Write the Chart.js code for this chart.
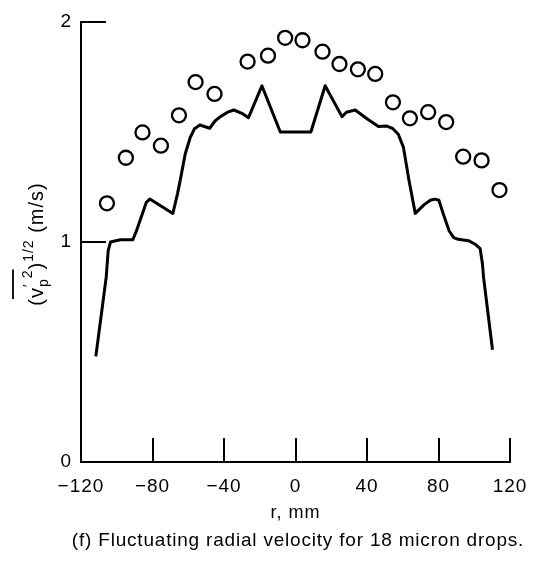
<!DOCTYPE html>
<html>
<head>
<meta charset="utf-8">
<script src="https://cdn.jsdelivr.net/npm/chart.js@4"></script>
<style>
  html, body { margin: 0; padding: 0; background: #fff; }
  #wrap { width: 544px; height: 561px; }
</style>
</head>
<body>
<div id="wrap"><canvas id="grafico"></canvas></div>
<script>
// measured fluctuating radial velocity (circles)
const dotR = [-105.5, -94.9, -85.6, -75.3, -65.2, -55.9, -45.3, -26.8, -15.4, -5.8, 3.9,
  15.1, 24.6, 34.9, 44.6, 54.5, 64.0, 74.2, 84.3, 93.8, 104.1, 114.1];
const dotV = [1.176, 1.383, 1.498, 1.438, 1.576, 1.727, 1.673, 1.820, 1.847, 1.928, 1.917,
  1.865, 1.809, 1.785, 1.764, 1.635, 1.562, 1.590, 1.545, 1.388, 1.371, 1.236];

// predicted curve (solid line)
const lineR = [-111.7, -105.9, -104.8, -103.5, -98, -91, -89, -86, -83.5, -81.5, -68.6, -66, -64.5,
  -61.7, -58.9, -56.5, -53.5, -48, -45, -42, -38, -34.5, -30, -26.3, -18.8, -8.5, 8.6, 16.6,
  26.0, 28.5, 33.4, 40, 46.4, 51.1, 54.5, 57.5, 60.4, 63.5, 67.0, 72, 75.4, 78, 80.2, 83, 86,
  88.5, 91, 96.8, 100.5, 103.3, 104.6, 105.2, 110.2];
const lineV = [0.48, 0.84, 0.96, 1.0, 1.01, 1.01, 1.05, 1.12, 1.18, 1.195, 1.13, 1.22, 1.28,
  1.40, 1.475, 1.515, 1.532, 1.517, 1.55, 1.57, 1.59, 1.60, 1.585, 1.565, 1.71, 1.50, 1.50, 1.71,
  1.57, 1.59, 1.60, 1.56, 1.525, 1.527, 1.515, 1.49, 1.43, 1.28, 1.13, 1.17, 1.19, 1.195, 1.19,
  1.12, 1.05, 1.02, 1.012, 1.006, 0.99, 0.97, 0.9, 0.84, 0.51];

const xTicks = [-120, -80, -40, 0, 40, 80, 120];
const yTicks = [0, 1, 2];

const FONT = "'Liberation Sans', Arial, Helvetica, sans-serif";

const toPts = (xs, ys) => xs.map((x, i) => ({x: x, y: ys[i]}));

// the scanned lettering is a bit wider than Liberation Sans
const spacing = {
  id: 'spacing',
  beforeDraw(chart) { chart.ctx.letterSpacing = '1px'; }
};

// inward tick marks, axis title, y label and caption
const extras = {
  id: 'extras',
  afterDraw(chart) {
    const ctx = chart.ctx;
    const xs = chart.scales.x, ys = chart.scales.y;
    const y0 = ys.getPixelForValue(0);
    const x0 = xs.getPixelForValue(-120);
    ctx.save();
    ctx.strokeStyle = '#000';
    ctx.lineWidth = 2;
    ctx.beginPath();
    xTicks.slice(1).forEach(v => {
      const px = Math.round(xs.getPixelForValue(v));
      ctx.moveTo(px, y0);
      ctx.lineTo(px, y0 - 24);
    });
    yTicks.slice(1).forEach(v => {
      const py = Math.round(ys.getPixelForValue(v));
      ctx.moveTo(x0, py);
      ctx.lineTo(x0 + 25, py);
    });
    ctx.stroke();

    ctx.fillStyle = '#000';
    ctx.textAlign = 'center';
    ctx.textBaseline = 'middle';
    ctx.letterSpacing = '1px';
    ctx.font = '18px ' + FONT;
    ctx.fillText('r, mm', xs.getPixelForValue(0), 513);
    ctx.letterSpacing = '0.8px';
    ctx.font = '19px ' + FONT;
    ctx.fillText('(f) Fluctuating radial velocity for 18 micron drops.', 298, 541);

    // y axis label: (v'p^2)^1/2 (m/s), rotated
    ctx.letterSpacing = '1px';
    ctx.translate(43, 244);
    ctx.rotate(-Math.PI / 2);
    ctx.textAlign = 'left';
    ctx.textBaseline = 'alphabetic';
    const big = '20px ' + FONT, small = '14px ' + FONT;
    const parts = [
      {t: '(', f: big, dy: 0},
      {t: 'v', f: big, dy: 0, over: true},
      {t: '\u2032', f: small, dy: -10, over: true, keep: true},
      {t: 'p', f: small, dy: 5, over: true},
      {t: '2', f: small, dy: -11, over: true},
      {t: ')', f: big, dy: 0},
      {t: '1/2', f: small, dy: -10},
      {t: ' (m/s)', f: big, dy: 0}
    ];
    let total = 0;
    parts.forEach(p => { ctx.font = p.f; p.w = p.keep ? 0 : ctx.measureText(p.t).width; total += p.w; });
    let cx = -total / 2, ox0 = null, ox1 = null;
    parts.forEach(p => {
      ctx.font = p.f;
      ctx.fillText(p.t, cx, p.dy);
      if (p.over) {
        if (ox0 === null) ox0 = cx;
        ox1 = cx + (p.keep ? 5 : p.w);
      }
      cx += p.w;
    });
    ctx.lineWidth = 1.8;
    ctx.beginPath();
    ctx.moveTo(ox0 - 1, -30);
    ctx.lineTo(ox1, -30);
    ctx.stroke();
    ctx.restore();
  }
};

const config = {
  type: 'scatter',
  data: {
    datasets: [
      {
        label: 'predicted',
        data: toPts(lineR, lineV),
        showLine: true,
        borderColor: '#000',
        borderWidth: 3,
        borderJoinStyle: 'round',
        pointRadius: 0,
        tension: 0,
        order: 2
      },
      {
        label: 'measured',
        data: toPts(dotR, dotV),
        showLine: false,
        borderColor: '#000',
        backgroundColor: 'rgba(255,255,255,0)',
        borderWidth: 2.3,
        pointRadius: 7,
        order: 1
      }
    ]
  },
  options: {
    responsive: true,
    maintainAspectRatio: false,
    animation: false,
    layout: {padding: {left: 0, right: 34, top: 22, bottom: 0}},
    scales: {
      x: {
        type: 'linear',
        min: -120,
        max: 120,
        afterBuildTicks: s => { s.ticks = xTicks.map(v => ({value: v})); },
        afterFit: s => { s.height = 99; },
        grid: {display: false, drawTicks: false},
        border: {display: true, color: '#000', width: 2},
        ticks: {
          padding: 13,
          color: '#000',
          font: {family: FONT, size: 19},
          callback: v => (v < 0 ? '\u2212' + Math.abs(v) : '' + v)
        }
      },
      y: {
        type: 'linear',
        min: 0,
        max: 2,
        afterBuildTicks: s => { s.ticks = yTicks.map(v => ({value: v})); },
        afterFit: s => { s.width = 81; },
        grid: {display: false, drawTicks: false},
        border: {display: true, color: '#000', width: 2},
        ticks: {
          padding: 9,
          color: '#000',
          font: {family: FONT, size: 19}
        }
      }
    },
    plugins: {
      legend: {display: false},
      tooltip: {enabled: false}
    }
  },
  plugins: [spacing, extras]
};

const myChart = new Chart(document.getElementById('grafico'), config);
</script>
</body>
</html>
